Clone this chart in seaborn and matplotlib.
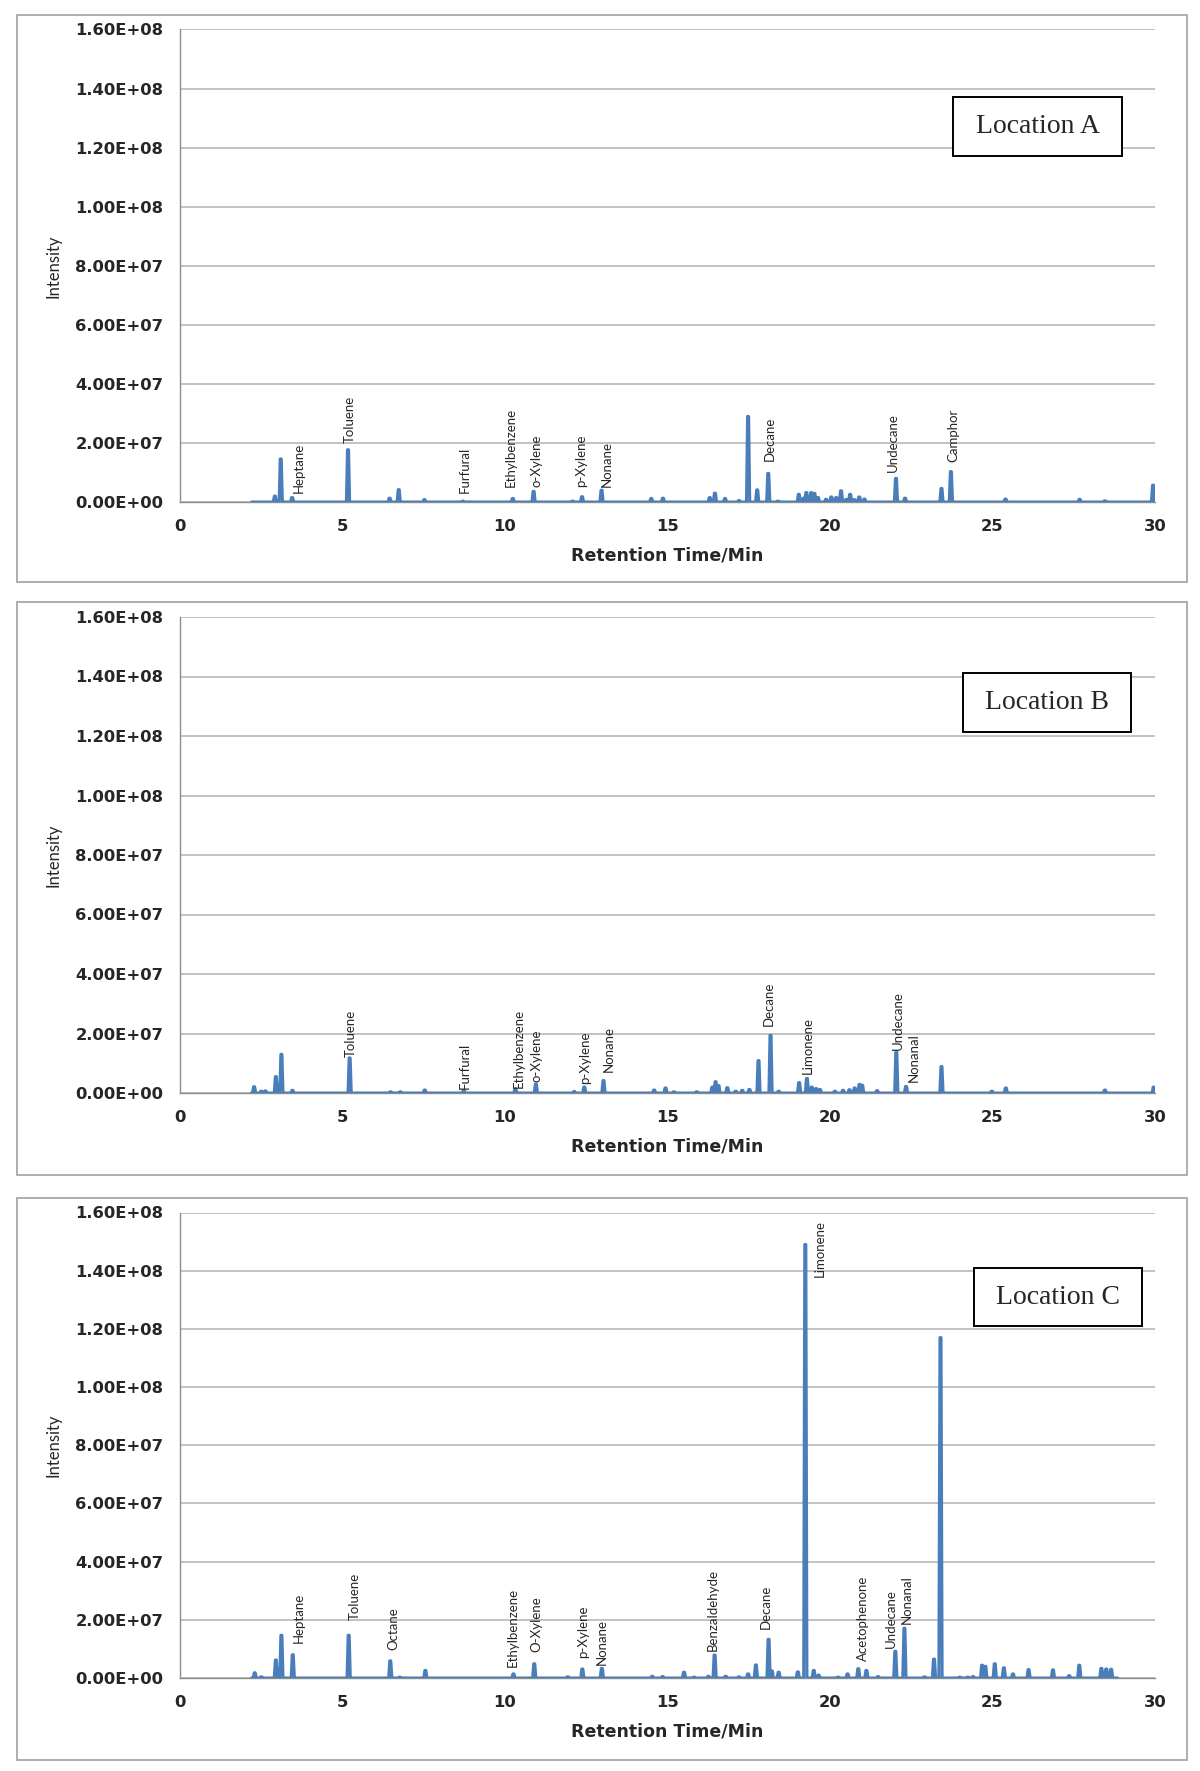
import matplotlib
matplotlib.use('Agg')
import matplotlib.pyplot as plt
import matplotlib.ticker as mticker
from matplotlib.patches import Rectangle
import pandas as pd
import seaborn as sns

# ---- data (retention time in min, intensity in 1E6) ----
a_rt = [2.92, 3.10, 3.45, 5.17, 6.45, 6.73, 7.52, 8.70, 10.24, 10.88, 12.08, 12.37, 12.97,
        14.50, 14.86, 16.30, 16.46, 16.77, 17.20, 17.48, 17.76, 18.10, 18.40, 19.04, 19.19,
        19.27, 19.42, 19.52, 19.63, 19.88, 20.04, 20.19, 20.34, 20.50, 20.62, 20.75, 20.90,
        21.06, 22.03, 22.31, 23.43, 23.72, 25.40, 27.68, 28.46, 29.94]
a_int = [2.0, 14.6, 1.5, 17.7, 1.3, 4.2, 0.8, 0.3, 1.2, 3.6, 0.3, 1.8, 4.0,
         1.2, 1.3, 1.5, 3.0, 1.2, 0.5, 29.0, 4.1, 9.7, 0.3, 2.6, 1.3,
         3.2, 3.2, 2.9, 1.5, 0.9, 1.7, 1.5, 3.8, 0.9, 2.6, 0.8, 1.7,
         1.0, 8.0, 1.3, 4.6, 10.3, 1.0, 0.9, 0.4, 5.7]
a_span = (2.2, 30.0)
a_names = ['Heptane', 'Toluene', 'Furfural', 'Ethylbenzene', 'o-Xylene', 'p-Xylene', 'Nonane',
           'Decane', 'Undecane', 'Camphor']
a_name_rt = [3.66, 5.22, 8.77, 10.18, 10.98, 12.35, 13.13, 18.15, 21.93, 23.80]
a_name_y = [3.2, 20.0, 3.2, 5.0, 5.0, 5.0, 5.0, 14.0, 10.0, 13.7]

b_rt = [2.28, 2.50, 2.63, 2.95, 3.12, 3.46, 5.22, 6.48, 6.78, 7.53, 8.73, 10.32, 10.95,
        12.13, 12.44, 13.03, 14.59, 14.94, 15.20, 15.90, 16.38, 16.48, 16.57, 16.84, 17.10,
        17.30, 17.52, 17.80, 18.17, 18.42, 19.05, 19.29, 19.44, 19.57, 19.69, 20.15, 20.40,
        20.60, 20.76, 20.91, 20.99, 21.45, 22.04, 22.34, 23.43, 24.98, 25.41, 28.46, 29.96]
b_int = [2.1, 0.6, 0.7, 5.5, 13.0, 0.9, 11.8, 0.4, 0.4, 1.0, 0.8, 1.3, 3.0,
         0.5, 2.0, 4.2, 1.0, 1.7, 0.4, 0.4, 2.0, 3.8, 2.5, 1.8, 0.6,
         0.9, 1.2, 10.9, 19.4, 0.6, 3.5, 4.9, 2.0, 1.5, 1.2, 0.6, 0.9,
         1.1, 1.7, 2.9, 2.6, 0.8, 13.7, 2.2, 8.9, 0.6, 1.7, 1.0, 2.0]
b_span = (2.2, 30.0)
b_names = ['Toluene', 'Furfural', 'Ethylbenzene', 'o-Xylene', 'p-Xylene', 'Nonane',
           'Decane', 'Limonene', 'Undecane', 'Nonanal']
b_name_rt = [5.25, 8.77, 10.42, 10.98, 12.46, 13.20, 18.10, 19.33, 22.10, 22.58]
b_name_y = [12.1, 1.3, 1.7, 3.8, 2.9, 7.0, 22.6, 6.3, 14.6, 3.8]

c_rt = [2.30, 2.50, 2.95, 3.12, 3.47, 5.19, 6.47, 6.76, 7.55, 10.26, 10.90, 11.93, 12.38,
        12.98, 14.53, 14.85, 15.51, 15.82, 16.26, 16.45, 16.79, 17.20, 17.48, 17.72, 18.11,
        18.21, 18.42, 19.01, 19.24, 19.50, 19.65, 20.25, 20.54, 20.87, 21.12, 21.48, 22.01,
        22.29, 22.91, 23.20, 23.40, 23.99, 24.24, 24.40, 24.68, 24.78, 25.07, 25.35, 25.63,
        26.11, 26.86, 27.36, 27.67, 28.35, 28.50, 28.65]
c_int = [1.8, 0.4, 6.2, 14.7, 8.0, 14.7, 5.9, 0.3, 2.6, 1.4, 4.9, 0.4, 3.1,
         3.3, 0.6, 0.5, 2.0, 0.3, 0.6, 7.9, 0.6, 0.4, 1.4, 4.5, 13.3,
         2.4, 2.0, 2.1, 149.0, 2.6, 1.0, 0.3, 1.4, 3.2, 2.6, 0.5, 9.2,
         17.1, 0.4, 6.5, 117.0, 0.3, 0.3, 0.5, 4.4, 4.0, 4.9, 3.5, 1.4,
         2.9, 2.8, 0.8, 4.4, 3.3, 3.1, 3.0]
c_span = (2.2, 28.85)
c_names = ['Heptane', 'Toluene', 'Octane', 'Ethylbenzene', 'O-Xylene', 'p-Xylene', 'Nonane',
           'Benzaldehyde', 'Decane', 'Limonene', 'Acetophenone', 'Undecane', 'Nonanal']
c_name_rt = [3.66, 5.37, 6.55, 10.24, 10.98, 12.40, 12.98, 16.38, 18.01, 19.69, 21.02, 21.86, 22.35]
c_name_y = [12.0, 20.0, 9.6, 3.8, 8.8, 7.0, 4.5, 9.2, 17.0, 138.0, 5.9, 10.4, 18.6]

locations = ['Location A', 'Location B', 'Location C']

W, H = 1200, 1771
BLUE = '#4A7EBB'


def trace(rt, inten, span, hw=0.05):
    # each peak drawn as a narrow spike on the baseline
    xs, ys = [span[0]], [0.0]
    for t, h in zip(rt, inten):
        xs += [t - hw, t - hw / 3, t + hw / 3, t + hw]
        ys += [0.0, h * 1e6, h * 1e6, 0.0]
    xs.append(span[1])
    ys.append(0.0)
    return pd.DataFrame({'rt': xs, 'intensity': ys})


sns.set_style('white')
plt.rcParams['font.family'] = ['DejaVu Sans']

fig = plt.figure(figsize=(W / 100, H / 100), dpi=100)

panels = [
    (a_rt, a_int, a_span, a_names, a_name_rt, a_name_y),
    (b_rt, b_int, b_span, b_names, b_name_rt, b_name_y),
    (c_rt, c_int, c_span, c_names, c_name_rt, c_name_y),
]
# pixel layout: plot top/bottom, outer box top/bottom, label box
plot_px = [(29.5, 502), (617, 1093), (1212.5, 1678)]
box_px = [(15, 582), (602, 1175), (1198, 1760)]
loc_px = [(953, 97, 1122, 156), (963, 673, 1131, 732), (974, 1268, 1142, 1326)]

for i, (rt, inten, span, names, name_rt, name_y) in enumerate(panels):
    top, bot = plot_px[i]
    ax = fig.add_axes([180 / W, 1 - bot / H, 975 / W, (bot - top) / H])
    df = trace(rt, inten, span)
    sns.lineplot(data=df, x='rt', y='intensity', ax=ax, sort=False, estimator=None,
                 color=BLUE, linewidth=2.2, zorder=3)
    ax.set_xlim(0, 30)
    ax.set_ylim(0, 1.6e8)
    ax.set_xticks(range(0, 31, 5))
    ax.set_yticks([k * 2e7 for k in range(9)])
    ax.yaxis.set_major_formatter(mticker.FuncFormatter(lambda v, p: f'{v:.2E}'))
    ax.grid(axis='y', color='#BDBDBD', linewidth=1.3)
    ax.set_axisbelow(True)
    for s in ['top', 'right']:
        ax.spines[s].set_visible(False)
    for s in ['left', 'bottom']:
        ax.spines[s].set_color('#8C8C8C')
        ax.spines[s].set_linewidth(1.0)
    ax.tick_params(axis='both', direction='out', length=4, width=1.0, color='#8C8C8C',
                   labelsize=11.8, pad=8)
    for lab in ax.get_xticklabels() + ax.get_yticklabels():
        lab.set_fontweight('bold')
    ax.set_xlabel('Retention Time/Min', fontsize=12.5, fontweight='bold', labelpad=9)
    ax.set_ylabel('Intensity', fontsize=12, family='Lato', labelpad=10)

    for name, t, y in zip(names, name_rt, name_y):
        ax.text(t, y * 1e6, name, rotation=90, ha='center', va='bottom',
                fontsize=9.5, family='Lato', zorder=4)

    b0, b1 = box_px[i]
    fig.add_artist(Rectangle((17 / W, 1 - b1 / H), (1187 - 17) / W, (b1 - b0) / H,
                             transform=fig.transFigure, fill=False,
                             edgecolor='#A8A8A8', linewidth=1.3))
    x0, y0, x1, y1 = loc_px[i]
    fig.add_artist(Rectangle((x0 / W, 1 - y1 / H), (x1 - x0) / W, (y1 - y0) / H,
                             transform=fig.transFigure, facecolor='white',
                             edgecolor='black', linewidth=1.4, zorder=5))
    fig.text((x0 + x1) / 2 / W, 1 - (y0 + y1) / 2 / H, locations[i],
             ha='center', va='center', fontsize=20, family='Liberation Serif', zorder=6)

fig.savefig('out.png', dpi=100, facecolor='white')
